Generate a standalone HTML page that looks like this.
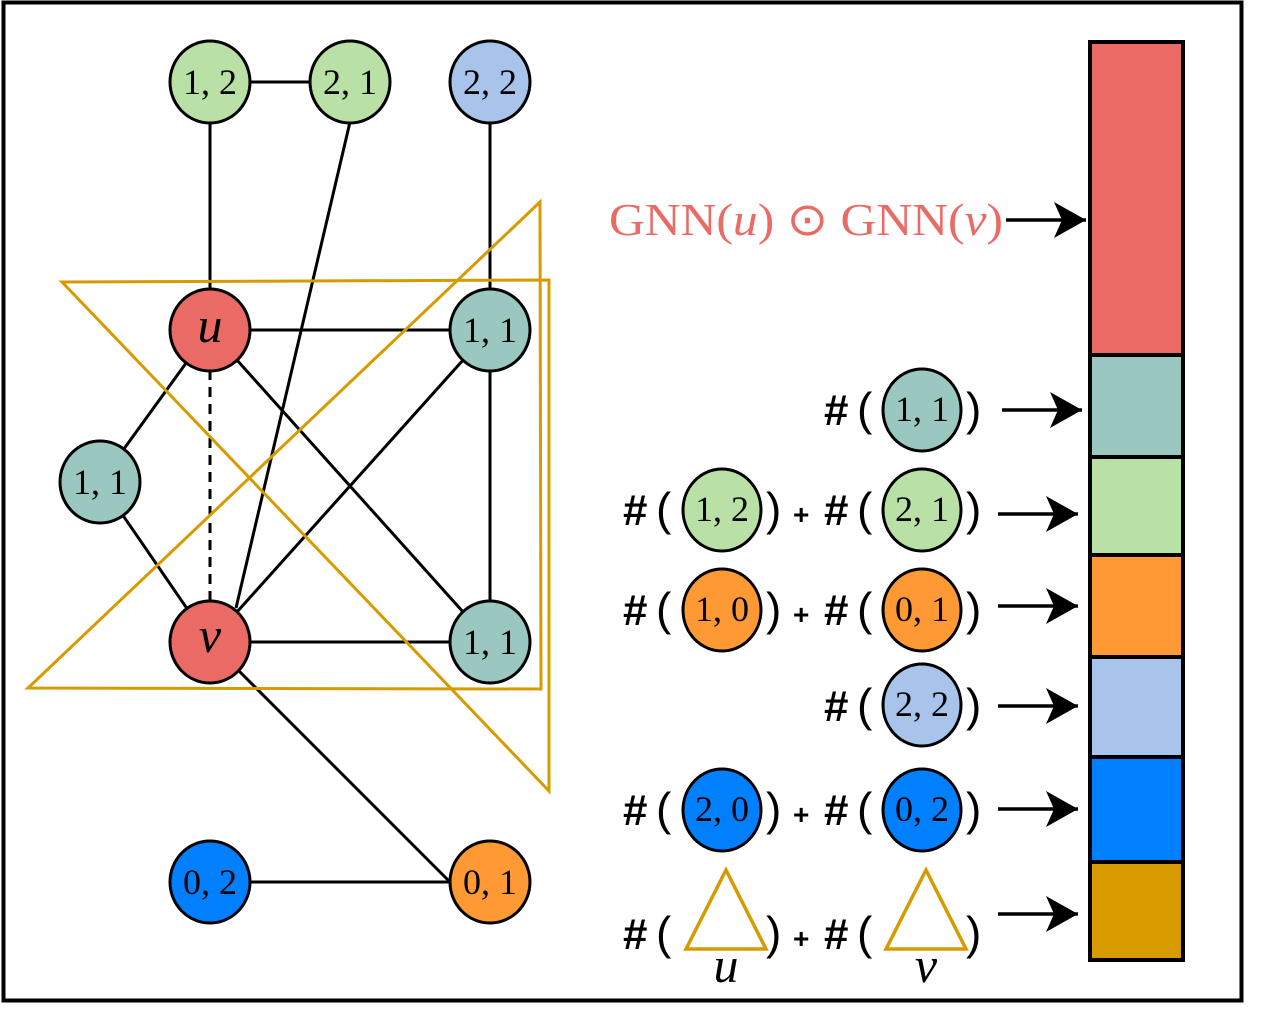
<!DOCTYPE html>
<html><head><meta charset="utf-8"><style>
html,body{margin:0;padding:0;background:#fff;}
svg{display:block;}
.m{font-family:"Liberation Serif",serif;font-size:36px;text-anchor:middle;}
.h{font-family:"Liberation Sans",sans-serif;font-weight:bold;font-size:44px;}
.pl{font-family:"Liberation Sans",sans-serif;font-weight:bold;font-size:28px;}
.p{font-family:"Liberation Sans",sans-serif;font-size:46px;}
.it{font-family:"Liberation Serif",serif;font-style:italic;font-size:50px;text-anchor:middle;}
</style></head><body>
<svg width="1272" height="1032" viewBox="0 0 1272 1032" xmlns="http://www.w3.org/2000/svg">
<defs>
<marker id="ah" markerWidth="34" markerHeight="40" refX="32" refY="20" orient="auto" markerUnits="userSpaceOnUse">
<path d="M0,2 L32,20 L0,38 L8,20 Z" fill="#000"/>
</marker>
</defs>
<rect x="3.5" y="2.5" width="1238" height="998" fill="#fff" stroke="#000" stroke-width="4"/>
<g stroke="#000" stroke-width="3" fill="none">
<line x1="210" y1="82" x2="350" y2="82"/>
<line x1="210" y1="82" x2="210" y2="330"/>
<line x1="350" y1="122" x2="236" y2="608"/>
<line x1="490" y1="82" x2="490" y2="330"/>
<line x1="210" y1="330" x2="490" y2="330"/>
<line x1="210" y1="330" x2="100" y2="482"/>
<line x1="210" y1="330" x2="490" y2="642"/>
<line x1="100" y1="482" x2="210" y2="642"/>
<line x1="490" y1="330" x2="210" y2="642"/>
<line x1="490" y1="330" x2="490" y2="642"/>
<line x1="210" y1="642" x2="490" y2="642"/>
<line x1="210" y1="642" x2="450" y2="882"/>
<line x1="210" y1="882" x2="490" y2="882"/>
<line x1="210" y1="370" x2="210" y2="602" stroke-dasharray="10,7"/>
</g>
<g stroke="#d79b00" stroke-width="3" fill="none">
<polygon points="62,282 549,280 549,791"/>
<polygon points="540,202 541,689 28,688"/>
</g>
<g stroke="#000" stroke-width="3">
<ellipse cx="210" cy="82" rx="40" ry="41" fill="#b9e0a5"/>
<ellipse cx="350" cy="82" rx="40" ry="41" fill="#b9e0a5"/>
<ellipse cx="490" cy="82" rx="40" ry="41" fill="#a9c4eb"/>
<ellipse cx="210" cy="330" rx="40" ry="41" fill="#ea6b66"/>
<ellipse cx="490" cy="330" rx="40" ry="41" fill="#9ac7bf"/>
<ellipse cx="100" cy="482" rx="40" ry="41" fill="#9ac7bf"/>
<ellipse cx="210" cy="642" rx="40" ry="41" fill="#ea6b66"/>
<ellipse cx="490" cy="642" rx="40" ry="41" fill="#9ac7bf"/>
<ellipse cx="210" cy="882" rx="40" ry="41" fill="#007fff"/>
<ellipse cx="490" cy="882" rx="40" ry="41" fill="#ff9933"/>
</g>
<g class="m">
<text x="210" y="94">1, 2</text>
<text x="350" y="94">2, 1</text>
<text x="490" y="94">2, 2</text>
<text x="490" y="342">1, 1</text>
<text x="100" y="494">1, 1</text>
<text x="490" y="654">1, 1</text>
<text x="210" y="894">0, 2</text>
<text x="490" y="894">0, 1</text>
</g>
<text x="210" y="342" class="it">u</text>
<text x="210" y="652" class="it">v</text>
<g stroke="#000" stroke-width="4">
<rect x="1090" y="42" width="93" height="313" fill="#ea6b66"/>
<rect x="1090" y="355" width="93" height="102" fill="#9ac7bf"/>
<rect x="1090" y="457" width="93" height="98" fill="#b9e0a5"/>
<rect x="1090" y="555" width="93" height="102" fill="#ff9933"/>
<rect x="1090" y="657" width="93" height="100" fill="#a9c4eb"/>
<rect x="1090" y="757" width="93" height="105" fill="#007fff"/>
<rect x="1090" y="862" width="93" height="98" fill="#d79b00"/>
</g>
<text x="609" y="235" font-family="Liberation Serif,serif" font-size="46" fill="#ea6b66" textLength="394" lengthAdjust="spacingAndGlyphs">GNN(<tspan font-style="italic">u</tspan>) ⊙ GNN(<tspan font-style="italic">v</tspan>)</text>
<g stroke="#000" stroke-width="3.5" marker-end="url(#ah)">
<line x1="1006" y1="220" x2="1086" y2="220"/>
<line x1="1002" y1="410" x2="1082" y2="410"/>
<line x1="998" y1="514" x2="1078" y2="514"/>
<line x1="998" y1="606" x2="1078" y2="606"/>
<line x1="998" y1="706" x2="1078" y2="706"/>
<line x1="998" y1="809" x2="1078" y2="809"/>
<line x1="998" y1="914" x2="1078" y2="914"/>
</g>
<g stroke="#000" stroke-width="3">
<ellipse cx="922" cy="410" rx="39" ry="41" fill="#9ac7bf"/>
<ellipse cx="722" cy="510" rx="39" ry="41" fill="#b9e0a5"/>
<ellipse cx="922" cy="510" rx="39" ry="41" fill="#b9e0a5"/>
<ellipse cx="722" cy="610" rx="39" ry="41" fill="#ff9933"/>
<ellipse cx="922" cy="610" rx="39" ry="41" fill="#ff9933"/>
<ellipse cx="922" cy="705" rx="39" ry="41" fill="#a9c4eb"/>
<ellipse cx="722" cy="810" rx="39" ry="41" fill="#007fff"/>
<ellipse cx="922" cy="810" rx="39" ry="41" fill="#007fff"/>
</g>
<g class="m">
<text x="922" y="421">1, 1</text>
<text x="722" y="521">1, 2</text>
<text x="922" y="521">2, 1</text>
<text x="722" y="621">1, 0</text>
<text x="922" y="621">0, 1</text>
<text x="922" y="716">2, 2</text>
<text x="722" y="821">2, 0</text>
<text x="922" y="821">0, 2</text>
</g>
<g class="h">
<text x="824" y="425">#</text>
<text x="623" y="525">#</text><text x="824" y="525">#</text>
<text x="623" y="625">#</text><text x="824" y="625">#</text>
<text x="824" y="721">#</text>
<text x="623" y="825">#</text><text x="824" y="825">#</text>
<text x="623" y="949">#</text><text x="824" y="949">#</text>
</g>
<g class="pl">
<text x="793" y="524">+</text><text x="793" y="624">+</text><text x="793" y="824">+</text><text x="793" y="948">+</text>
</g>
<g class="p">
<text x="857" y="425">(</text><text x="966" y="425">)</text>
<text x="656" y="525">(</text><text x="766" y="525">)</text><text x="857" y="525">(</text><text x="966" y="525">)</text>
<text x="656" y="625">(</text><text x="766" y="625">)</text><text x="857" y="625">(</text><text x="966" y="625">)</text>
<text x="857" y="721">(</text><text x="966" y="721">)</text>
<text x="656" y="825">(</text><text x="766" y="825">)</text><text x="857" y="825">(</text><text x="966" y="825">)</text>
<text x="656" y="949">(</text><text x="766" y="949">)</text><text x="857" y="949">(</text><text x="966" y="949">)</text>
</g>
<g stroke="#d79b00" stroke-width="3.5" fill="none">
<polygon points="686,949 766,949 726,870"/>
<polygon points="886,949 966,949 926,870"/>
</g>
<text x="726" y="982" class="it">u</text>
<text x="926" y="982" class="it">v</text>
</svg>
</body></html>
